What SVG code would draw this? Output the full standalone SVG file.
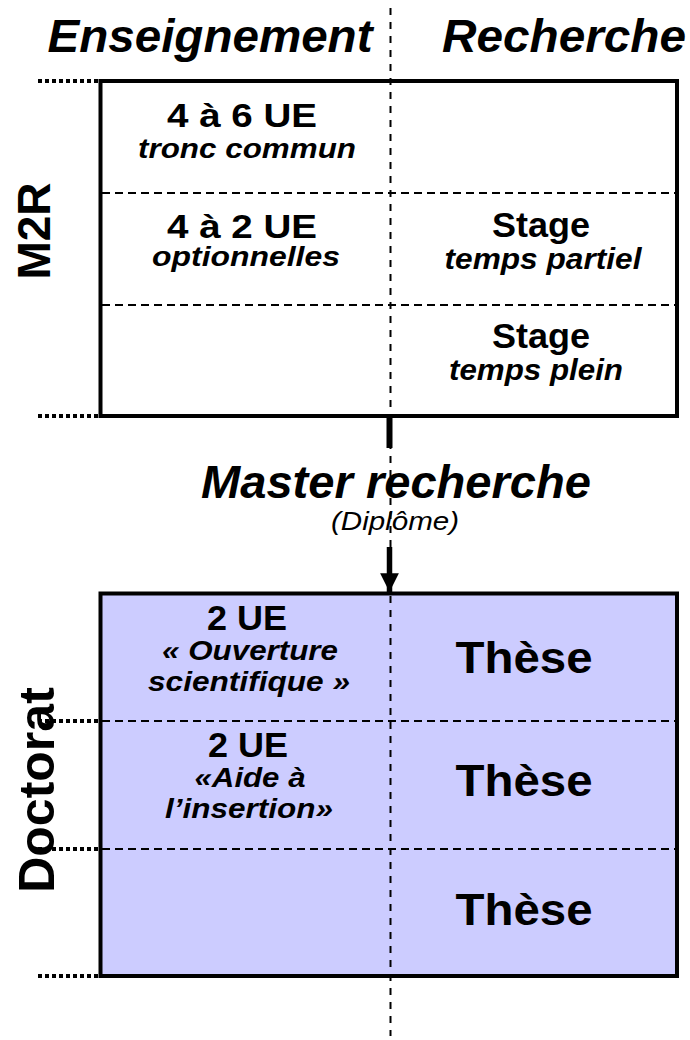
<svg xmlns="http://www.w3.org/2000/svg" width="690" height="1040" viewBox="0 0 690 1040">
<defs>
<style>
text{font-family:"Liberation Sans",Arial,sans-serif;fill:#000;text-anchor:middle}
.b{font-weight:bold}
.bi{font-weight:bold;font-style:italic}
.i{font-style:italic}
.box{stroke:#000;stroke-width:4}
.dash{stroke:#000;stroke-width:2;stroke-dasharray:8 5;fill:none}
.vdash{stroke:#000;stroke-width:2;stroke-dasharray:7 7;fill:none}
.dot{stroke:#000;stroke-width:4;stroke-dasharray:4 3;fill:none}
</style>
<marker id="ah" viewBox="0 0 10 10" refX="10" refY="5" markerWidth="3.4" markerHeight="3.4" markerUnits="strokeWidth" orient="auto">
<path d="M0,0 L10,5 L0,10 z" fill="#000"/>
</marker>
</defs>
<g id="headers">
<text class="bi" x="210" y="52" font-size="47" textLength="325" lengthAdjust="spacingAndGlyphs">Enseignement</text>
<text class="bi" x="564" y="52" font-size="47" textLength="244" lengthAdjust="spacingAndGlyphs">Recherche</text>
</g>
<g id="m2r">
<rect class="box" x="100.5" y="81" width="576.5" height="335" fill="#fff"/>
<line class="dash" x1="102" y1="193" x2="675" y2="193"/>
<line class="dash" x1="102" y1="305" x2="675" y2="305"/>
<text class="b" transform="translate(50,231) rotate(-90)" font-size="46">M2R</text>
</g>
<g id="m2r-tronc">
<text class="b" x="242" y="127" font-size="34" textLength="150" lengthAdjust="spacingAndGlyphs">4 à 6 UE</text>
<text class="bi" x="247" y="158" font-size="27" textLength="218" lengthAdjust="spacingAndGlyphs">tronc commun</text>
</g>
<g id="m2r-options">
<text class="b" x="242" y="238" font-size="34" textLength="150" lengthAdjust="spacingAndGlyphs">4 à 2 UE</text>
<text class="bi" x="246" y="266" font-size="27" textLength="188" lengthAdjust="spacingAndGlyphs">optionnelles</text>
</g>
<g id="stage-partiel">
<text class="b" x="541" y="237" font-size="35" textLength="98" lengthAdjust="spacingAndGlyphs">Stage</text>
<text class="bi" x="543" y="269" font-size="30" textLength="197" lengthAdjust="spacingAndGlyphs">temps partiel</text>
</g>
<g id="stage-plein">
<text class="b" x="541" y="348" font-size="35" textLength="98" lengthAdjust="spacingAndGlyphs">Stage</text>
<text class="bi" x="536" y="380" font-size="30" textLength="174" lengthAdjust="spacingAndGlyphs">temps plein</text>
</g>
<g id="master">
<text class="bi" x="396" y="498" font-size="47" textLength="390" lengthAdjust="spacingAndGlyphs">Master recherche</text>
<text class="i" x="395" y="530" font-size="26" textLength="128" lengthAdjust="spacingAndGlyphs">(Diplôme)</text>
</g>
<g id="doctorat">
<rect class="box" x="100.5" y="593.5" width="576.5" height="382.5" fill="#ccccff"/>
<line class="dash" x1="102" y1="721" x2="675" y2="721"/>
<line class="dash" x1="102" y1="849" x2="675" y2="849"/>
<text class="b" transform="translate(54,790) rotate(-90)" font-size="50">Doctorat</text>
</g>
<g id="ue-ouverture">
<text class="b" x="247" y="630" font-size="35" textLength="80" lengthAdjust="spacingAndGlyphs">2 UE</text>
<text class="bi" x="250" y="660" font-size="27" textLength="176" lengthAdjust="spacingAndGlyphs">« Ouverture</text>
<text class="bi" x="249" y="691" font-size="27" textLength="202" lengthAdjust="spacingAndGlyphs">scientifique »</text>
</g>
<g id="ue-insertion">
<text class="b" x="248" y="757" font-size="35" textLength="80" lengthAdjust="spacingAndGlyphs">2 UE</text>
<text class="bi" x="250" y="787" font-size="27" textLength="111" lengthAdjust="spacingAndGlyphs">«Aide à</text>
<text class="bi" x="249" y="818" font-size="27" textLength="168" lengthAdjust="spacingAndGlyphs">l’insertion»</text>
</g>
<g id="these-1"><text class="b" x="524" y="673" font-size="45" textLength="137" lengthAdjust="spacingAndGlyphs">Thèse</text></g>
<g id="these-2"><text class="b" x="524" y="796" font-size="45" textLength="137" lengthAdjust="spacingAndGlyphs">Thèse</text></g>
<g id="these-3"><text class="b" x="524" y="925" font-size="45" textLength="137" lengthAdjust="spacingAndGlyphs">Thèse</text></g>
<g id="connectors">
<line class="vdash" x1="390.5" y1="8" x2="390.5" y2="1036"/>
<line class="dot" x1="38" y1="81" x2="98" y2="81"/>
<line class="dot" x1="38" y1="416" x2="98" y2="416"/>
<line class="dot" x1="38" y1="721" x2="98" y2="721"/>
<line class="dot" x1="38" y1="849" x2="98" y2="849"/>
<line class="dot" x1="38" y1="976" x2="98" y2="976"/>
<line x1="389.5" y1="416" x2="389.5" y2="448" stroke="#000" stroke-width="6"/>
<line x1="389.5" y1="547" x2="389.5" y2="592" stroke="#000" stroke-width="5.5" marker-end="url(#ah)"/>
</g>
</svg>
